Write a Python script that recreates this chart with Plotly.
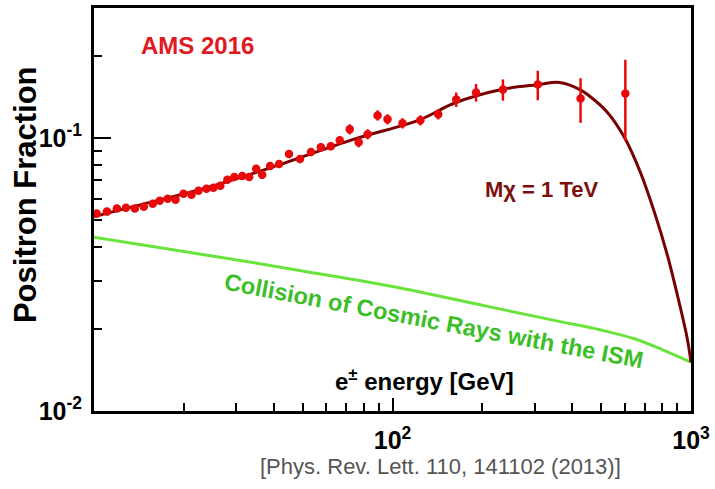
import plotly.graph_objects as go

# ---- data ----
ams_energy = [10.2, 11.05, 11.93, 12.79, 13.70, 14.68, 15.73, 16.60, 17.65, 18.76,
              19.95, 21.22, 22.39, 23.81, 25.12, 26.50, 27.97, 29.51, 31.38, 33.11,
              34.94, 36.59, 38.90, 41.69, 45.01, 48.98, 53.30, 57.54, 62.13, 66.58,
              71.91, 77.03, 82.55, 89.13, 96.24, 108.0, 124.0, 142.3, 163.5, 190.5,
              234.4, 306.7, 426.6, 602.6]
ams_fraction = [0.0529, 0.0538, 0.0552, 0.0556, 0.0552, 0.0561, 0.0575, 0.0590, 0.0600, 0.0595,
                0.0626, 0.0620, 0.0642, 0.0653, 0.0658, 0.0669, 0.0704, 0.0721, 0.0727, 0.0721,
                0.0772, 0.0734, 0.0791, 0.0804, 0.0875, 0.0839, 0.0889, 0.0927, 0.0935, 0.0983,
                0.1078, 0.0967, 0.1034, 0.1212, 0.1173, 0.1134, 0.1163, 0.1223, 0.1386, 0.1470,
                0.1507, 0.1572, 0.1398, 0.1458]
ams_error = [0.0013, 0.0014, 0.0014, 0.0014, 0.0014, 0.0014, 0.0015, 0.0015, 0.0015, 0.0015,
             0.0016, 0.0016, 0.0016, 0.0017, 0.0017, 0.0017, 0.0018, 0.0018, 0.0019, 0.0019,
             0.0026, 0.0025, 0.0027, 0.0027, 0.0030, 0.0029, 0.0030, 0.0032, 0.0032, 0.0033,
             0.0046, 0.0041, 0.0044, 0.0052, 0.0050, 0.0049, 0.0050, 0.0052, 0.0084, 0.0109,
             0.0135, 0.0195, 0.0260, 0.0480]

dm_energy = [10, 13.5, 22.6, 37.8, 74, 124, 160, 234, 307, 363, 423, 450, 525, 598,
             676, 753, 832, 898, 970, 1000]
dm_fraction = [0.0516, 0.0561, 0.0647, 0.0770, 0.0990, 0.1170, 0.1340, 0.1510, 0.1570, 0.1600,
               0.1510, 0.1445, 0.1243, 0.1008, 0.0752, 0.0538, 0.0375, 0.0269, 0.0186, 0.0151]

bg_energy = [10, 20, 32, 50, 100, 200, 355, 500, 646, 800, 1000]
bg_fraction = [0.0433, 0.0384, 0.0354, 0.0326, 0.0286, 0.0244, 0.0214, 0.0198, 0.0184, 0.0168, 0.0151]

x_tick_vals = [100, 1000]
x_tick_text = ["<b>10<sup>2</sup></b>", "<b>10<sup>3</sup></b>"]
x_minor_vals = [20, 30, 40, 50, 60, 70, 80, 90, 200, 300, 400, 500, 600, 700, 800, 900]
y_tick_vals = [0.01, 0.1]
y_tick_text = ["<b>10<sup>-2</sup></b>", "<b>10<sup>-1</sup></b>"]
y_minor_vals = [0.02, 0.03, 0.04, 0.05, 0.06, 0.07, 0.08, 0.09, 0.2, 0.3]

FONT = "Liberation Sans, Arial, sans-serif"
RED = "rgb(232,10,10)"
DARKRED = "rgb(120,0,0)"
GREEN = "rgb(105,228,60)"

fig = go.Figure()
fig.add_trace(go.Scatter(x=bg_energy, y=bg_fraction, mode="lines", line_shape="spline",
                         line=dict(color=GREEN, width=3), hoverinfo="skip"))
fig.add_trace(go.Scatter(x=dm_energy, y=dm_fraction, mode="lines", line_shape="spline",
                         line=dict(color=DARKRED, width=3), hoverinfo="skip"))
fig.add_trace(go.Scatter(x=ams_energy, y=ams_fraction, mode="markers",
                         marker=dict(color=RED, size=8.5, symbol="circle"),
                         error_y=dict(type="data", array=ams_error, color=RED,
                                      thickness=2.5, width=0)))

axis_common = dict(type="log", showline=True, linecolor="black", linewidth=3, mirror=True,
                   ticks="inside", tickcolor="black", tickwidth=2, showgrid=False,
                   zeroline=False, tickfont=dict(family=FONT, size=25, color="black"))

fig.update_layout(
    width=715, height=489, autosize=False,
    margin=dict(l=94, r=20, t=5, b=78),
    paper_bgcolor="white", plot_bgcolor="white",
    showlegend=False,
    xaxis=dict(range=[1, 3], tickmode="array", tickvals=x_tick_vals, ticktext=x_tick_text,
               ticklen=13, ticklabelstandoff=5,
               minor=dict(tickmode="array", tickvals=x_minor_vals, ticks="inside", ticklen=8,
                          tickwidth=1.5, tickcolor="black", showgrid=False),
               **axis_common),
    yaxis=dict(range=[-2, -0.5229], tickmode="array", tickvals=y_tick_vals, ticktext=y_tick_text,
               ticklen=17, ticklabelstandoff=4,
               minor=dict(tickmode="array", tickvals=y_minor_vals, ticks="inside", ticklen=8,
                          tickwidth=1.5, tickcolor="black", showgrid=False),
               **axis_common),
)

def px_x(px):
    return (px - 94) / 601.0

def px_y(py):
    return (411 - py) / 406.0

annotations = [
    dict(text="<b>Positron Fraction</b>", x=px_x(25), y=px_y(193), textangle=-90,
         font=dict(family=FONT, size=31, color="black")),
    dict(text="<b>AMS 2016</b>", x=px_x(198), y=px_y(43),
         font=dict(family=FONT, size=24, color="rgb(225,25,35)")),
    dict(text="<b>M\u03c7 = 1 TeV</b>", x=px_x(545), y=px_y(188),
         font=dict(family=FONT, size=22, color="rgb(125,15,15)")),
    dict(text="<b>e<sup>\u00b1</sup> energy [GeV]</b>", x=px_x(427), y=px_y(380),
         font=dict(family=FONT, size=24, color="black")),
    dict(text="<b>Collision of Cosmic Rays with the ISM</b>", x=px_x(436), y=px_y(320),
         textangle=10.7, font=dict(family=FONT, size=23.5, color="rgb(60,190,40)")),
    dict(text="[Phys. Rev. Lett. 110, 141102 (2013)]", x=px_x(443), y=px_y(467),
         font=dict(family=FONT, size=22, color="rgb(85,85,85)")),
]
for a in annotations:
    a.update(xref="paper", yref="paper", showarrow=False, xanchor="center", yanchor="middle")
fig.update_layout(annotations=annotations)

fig.write_html("out.html")
